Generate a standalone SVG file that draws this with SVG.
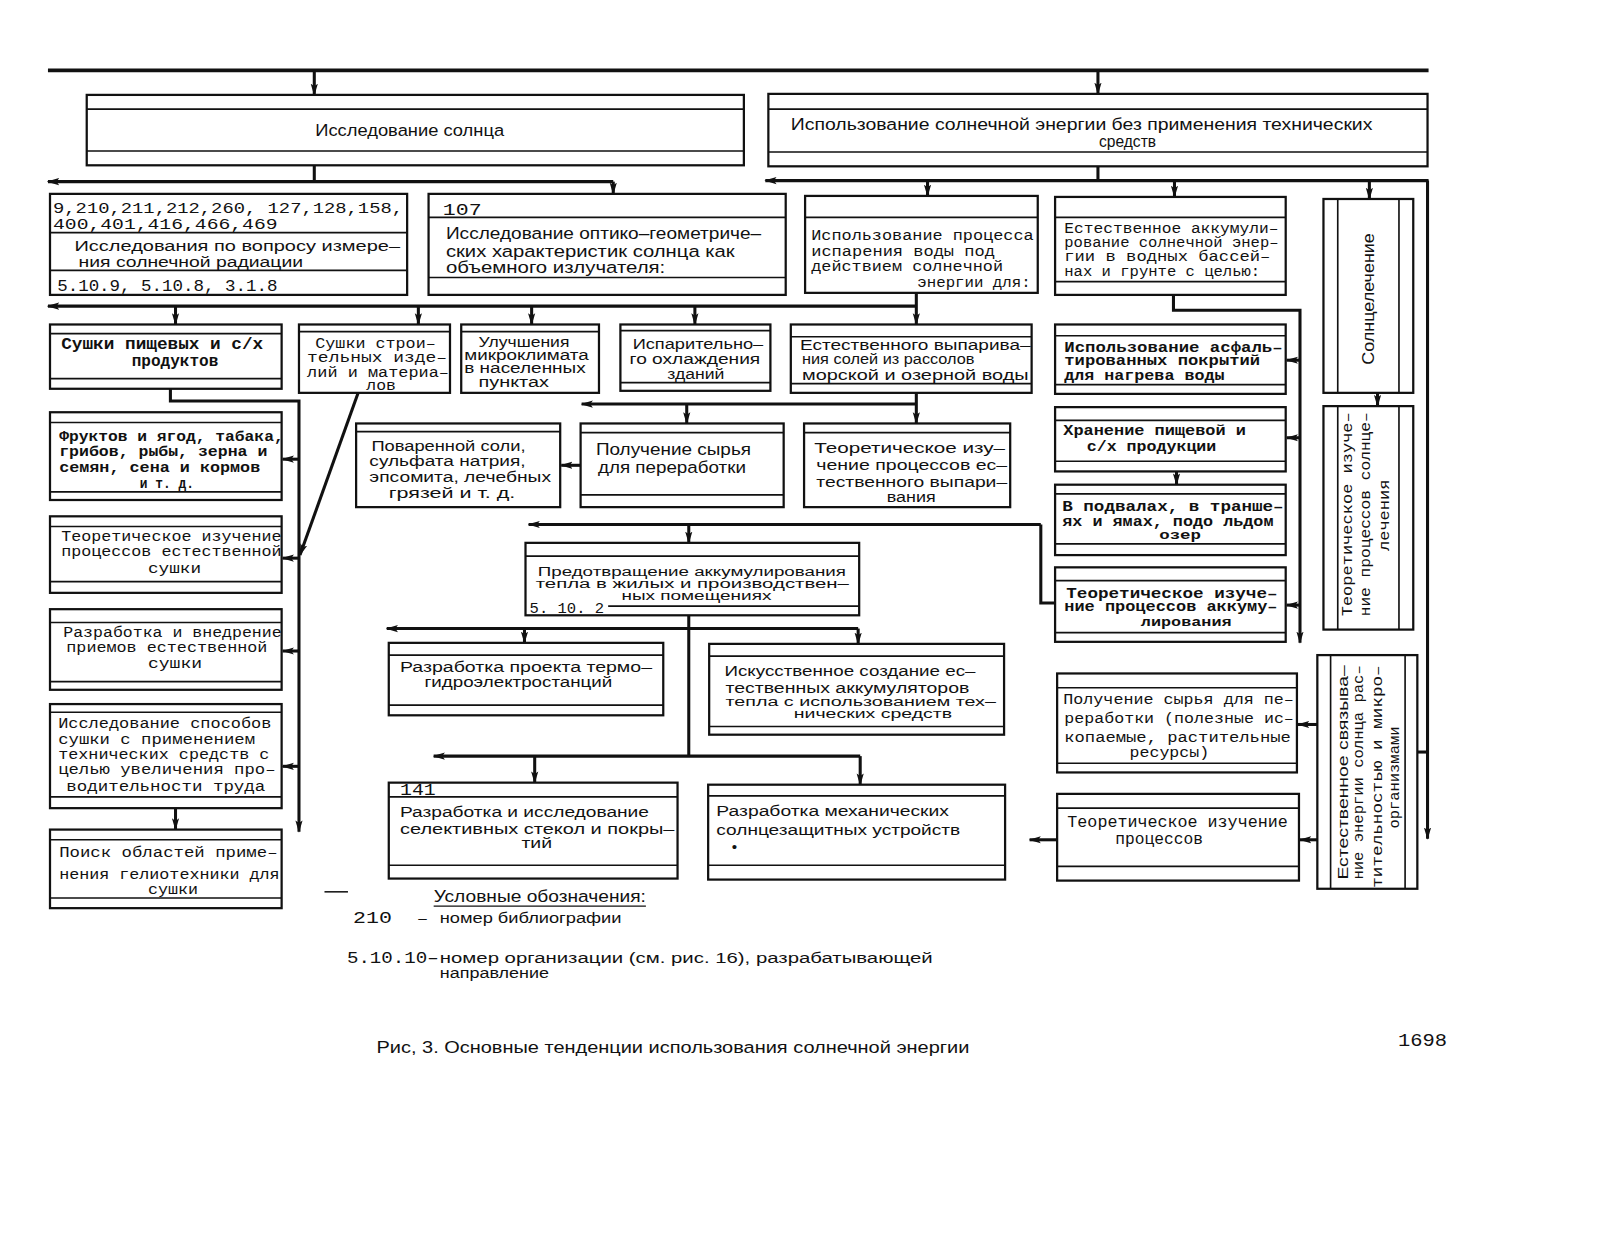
<svg xmlns="http://www.w3.org/2000/svg" width="1600" height="1237" viewBox="0 0 1600 1237">
<defs>
<marker id="ah" viewBox="0 0 12 8" refX="11" refY="4" markerWidth="12" markerHeight="8" markerUnits="userSpaceOnUse" orient="auto"><path d="M0,0.5 L12,4 L0,7.5 L2.5,4 z" fill="#111"/></marker>
<style>
.bx{fill:#fff;stroke:#111;stroke-width:2.2}
.in{fill:none;stroke:#111;stroke-width:1.6}
.cn path{fill:none;stroke:#111;stroke-width:3}
.cn path.a{marker-end:url(#ah)}
text{fill:#111}
.s{font-family:"Liberation Sans",Arial,sans-serif;font-size:16px}
.m{font-family:"Liberation Mono","Courier New",monospace;font-size:15px}
.mb{font-family:"Liberation Mono","Courier New",monospace;font-size:16px;font-weight:bold}
</style>
</defs>
<rect width="1600" height="1237" fill="#fff"/>
<g transform="scale(1.0204)">
<g id="connectors" class="cn">
<path d="M47,69 H1400" style="stroke-width:3.5"/>
<path class="a" d="M308,69 V93"/>
<path class="a" d="M1076,69 V92"/>
<path d="M308,162 V178"/>
<path class="a" d="M601,178 H47"/>
<path class="a" d="M601,178 V190"/>
<path d="M1076,163 V177"/>
<path class="a" d="M1400,177 H750"/>
<path class="a" d="M909,177 V192"/>
<path class="a" d="M1151,177 V193"/>
<path class="a" d="M1342,177 V195"/>
<path class="a" d="M1399,177 V822"/>
<path d="M1399,737 H1389"/>
<path class="a" d="M898,287 V318"/>
<path class="a" d="M898,300 H47"/>
<path class="a" d="M172,300 V318"/>
<path class="a" d="M410,300 V318"/>
<path class="a" d="M521,300 V318"/>
<path class="a" d="M681,300 V318"/>
<path class="a" d="M167,381 V393 H293 V815"/>
<path class="a" d="M293,450 H277"/>
<path class="a" d="M293,547 H277"/>
<path class="a" d="M293,638 H277"/>
<path class="a" d="M293,751 H277"/>
<path class="a" d="M351,385 L294,544"/>
<path class="a" d="M172,792 V813"/>
<path class="a" d="M898,385 V415"/>
<path class="a" d="M898,396 H570"/>
<path class="a" d="M673,396 V415"/>
<path class="a" d="M569,456 H550"/>
<path class="a" d="M1020,514 H518"/>
<path d="M1020,514 V591 H1034"/>
<path class="a" d="M675,514 V532"/>
<path d="M675,603 V741"/>
<path class="a" d="M841,616 H379"/>
<path class="a" d="M514,616 V630"/>
<path class="a" d="M841,616 V631"/>
<path class="a" d="M843,741 H425"/>
<path class="a" d="M524,741 V767"/>
<path class="a" d="M843,741 V769"/>
<path class="a" d="M1150,289 V304 H1274 V630"/>
<path class="a" d="M1274,353 H1261"/>
<path class="a" d="M1274,429 H1261"/>
<path class="a" d="M1274,593 H1261"/>
<path class="a" d="M1153,462 V475"/>
<path class="a" d="M1350,385 V398"/>
<path class="a" d="M1291,710 H1272"/>
<path class="a" d="M1291,823 H1274"/>
<path class="a" d="M1036,823 H1009"/>
</g>

<g id="n-sun">
<rect class="bx" x="85" y="93" width="644" height="69"/>
<path class="in" d="M85,107 H729 M85,148 H729"/>
<text class="s" x="309" y="133" textLength="185" lengthAdjust="spacingAndGlyphs">Исследование солнца</text>
</g>
<g id="n-nontech">
<rect class="bx" x="753" y="92" width="646" height="71"/>
<path class="in" d="M753,107 H1399 M753,149 H1399"/>
<text class="s" x="775" y="127" textLength="570" lengthAdjust="spacingAndGlyphs">Использование солнечной энергии без применения технических</text>
<text class="s" x="1077" y="144" textLength="56" lengthAdjust="spacingAndGlyphs">средств</text>
</g>
<g id="n-radiation">
<rect class="bx" x="49" y="190" width="350" height="99"/>
<path class="in" d="M49,228 H399 M49,265 H399"/>
<text class="m" x="52" y="209" textLength="343" lengthAdjust="spacingAndGlyphs">9,210,211,212,260, 127,128,158,</text>
<text class="m" x="52" y="224" textLength="220" lengthAdjust="spacingAndGlyphs">400,401,416,466,469</text>
<text class="s" style="font-size:15px" x="73" y="246" textLength="319" lengthAdjust="spacingAndGlyphs">Исследования по вопросу измере–</text>
<text class="s" style="font-size:15px" x="77" y="262" textLength="220" lengthAdjust="spacingAndGlyphs">ния солнечной  радиации</text>
<text class="m" style="font-size:16px" x="56" y="285" textLength="216" lengthAdjust="spacingAndGlyphs">5.10.9,  5.10.8, 3.1.8</text>
</g>
<g id="n-optic">
<rect class="bx" x="420" y="190" width="350" height="99"/>
<path class="in" d="M420,213 H770 M420,272 H770"/>
<text class="m" style="font-size:17px" x="434" y="211" textLength="38" lengthAdjust="spacingAndGlyphs">107</text>
<text class="s" x="437" y="234" textLength="309" lengthAdjust="spacingAndGlyphs">Исследование оптико–геометриче–</text>
<text class="s" x="437" y="252" textLength="283" lengthAdjust="spacingAndGlyphs">ских характеристик солнца как</text>
<text class="s" x="437" y="268" textLength="215" lengthAdjust="spacingAndGlyphs">объемного   излучателя:</text>
</g>
<g id="n-evap">
<rect class="bx" x="789" y="192" width="228" height="95"/>
<path class="in" d="M789,213 H1017"/>
<text class="m" x="795" y="235" textLength="218" lengthAdjust="spacingAndGlyphs">Использование процесса</text>
<text class="m" x="795" y="251" textLength="180" lengthAdjust="spacingAndGlyphs">испарения воды под</text>
<text class="m" x="795" y="266" textLength="188" lengthAdjust="spacingAndGlyphs">действием солнечной</text>
<text class="m" x="899" y="281" textLength="111" lengthAdjust="spacingAndGlyphs">энергии для:</text>
</g>
<g id="n-accum">
<rect class="bx" x="1034" y="193" width="226" height="96"/>
<path class="in" d="M1034,213 H1260 M1034,276 H1260"/>
<text class="m" style="font-size:14px" x="1043" y="228" textLength="210" lengthAdjust="spacingAndGlyphs">Естественное аккумули–</text>
<text class="m" style="font-size:14px" x="1043" y="242" textLength="210" lengthAdjust="spacingAndGlyphs">рование солнечной энер–</text>
<text class="m" style="font-size:14px" x="1043" y="256" textLength="202" lengthAdjust="spacingAndGlyphs">гии в водных бассей–</text>
<text class="m" style="font-size:14px" x="1043" y="270" textLength="192" lengthAdjust="spacingAndGlyphs">нах и грунте с целью:</text>
</g>
<g id="n-heliotherapy">
<rect class="bx" x="1297" y="195" width="88" height="190"/>
<path class="in" d="M1311,195 V385 M1371,195 V385"/>
<text class="s" transform="translate(1347,293) rotate(-90)" text-anchor="middle" textLength="129" lengthAdjust="spacingAndGlyphs">Солнцелечение</text>
</g>
<g id="n-helio-theory">
<rect class="bx" x="1297" y="398" width="88" height="219"/>
<path class="in" d="M1311,398 V617 M1371,398 V617"/>
<text class="m" transform="translate(1325,504) rotate(-90)" text-anchor="middle" textLength="200" lengthAdjust="spacingAndGlyphs">Теоретическое изуче–</text>
<text class="m" transform="translate(1343,504) rotate(-90)" text-anchor="middle" textLength="200" lengthAdjust="spacingAndGlyphs">ние процессов солнце–</text>
<text class="m" transform="translate(1361,505) rotate(-90)" text-anchor="middle" textLength="70" lengthAdjust="spacingAndGlyphs">лечения</text>
</g>
<g id="n-bio">
<rect class="bx" x="1291" y="642" width="98" height="229"/>
<path class="in" d="M1304,642 V871 M1377,642 V871"/>
<text class="s" style="font-size:14px" transform="translate(1321,757) rotate(-90)" text-anchor="middle" textLength="210" lengthAdjust="spacingAndGlyphs">Естественное связыва–</text>
<text class="m" style="font-size:14px" transform="translate(1336,757) rotate(-90)" text-anchor="middle" textLength="210" lengthAdjust="spacingAndGlyphs">ние энергии солнца рас–</text>
<text class="m" style="font-size:14px" transform="translate(1354,761) rotate(-90)" text-anchor="middle" textLength="218" lengthAdjust="spacingAndGlyphs">тительностью и микро–</text>
<text class="m" style="font-size:14px" transform="translate(1371,762) rotate(-90)" text-anchor="middle" textLength="100" lengthAdjust="spacingAndGlyphs">организмами</text>
</g>

<g id="n-dry-food">
<rect class="bx" x="49" y="318" width="227" height="63"/>
<path class="in" d="M49,327 H276 M49,371 H276"/>
<text class="mb" x="60" y="342" textLength="198" lengthAdjust="spacingAndGlyphs">Сушки пищевых и с/х</text>
<text class="mb" x="129" y="359" textLength="85" lengthAdjust="spacingAndGlyphs">продуктов</text>
</g>
<g id="n-dry-build">
<rect class="bx" x="293" y="318" width="148" height="67"/>
<path class="in" d="M293,325 H441"/>
<text class="m" style="font-size:14px" x="309" y="341" textLength="118" lengthAdjust="spacingAndGlyphs">Сушки строи–</text>
<text class="m" style="font-size:14px" x="301" y="355" textLength="137" lengthAdjust="spacingAndGlyphs">тельных изде–</text>
<text class="m" style="font-size:14px" x="301" y="369" textLength="139" lengthAdjust="spacingAndGlyphs">лий и материа–</text>
<text class="m" style="font-size:14px" x="359" y="382" textLength="29" lengthAdjust="spacingAndGlyphs">лов</text>
</g>
<g id="n-microclimate">
<rect class="bx" x="452" y="318" width="135" height="67"/>
<path class="in" d="M452,325 H587"/>
<text class="s" style="font-size:14px" x="469" y="340" textLength="89" lengthAdjust="spacingAndGlyphs">Улучшения</text>
<text class="s" style="font-size:14px" x="455" y="353" textLength="122" lengthAdjust="spacingAndGlyphs">микроклимата</text>
<text class="s" style="font-size:14px" x="455" y="366" textLength="119" lengthAdjust="spacingAndGlyphs">в населенных</text>
<text class="s" style="font-size:14px" x="469" y="379" textLength="69" lengthAdjust="spacingAndGlyphs">пунктах</text>
</g>
<g id="n-cooling">
<rect class="bx" x="608" y="318" width="147" height="65"/>
<path class="in" d="M608,324 H755 M608,375 H755"/>
<text class="s" style="font-size:15px" x="620" y="342" textLength="128" lengthAdjust="spacingAndGlyphs">Испарительно–</text>
<text class="s" style="font-size:15px" x="617" y="357" textLength="128" lengthAdjust="spacingAndGlyphs">го охлаждения</text>
<text class="s" style="font-size:14px" x="654" y="371" textLength="56" lengthAdjust="spacingAndGlyphs">зданий</text>
</g>
<g id="n-salt">
<rect class="bx" x="775" y="318" width="236" height="67"/>
<path class="in" d="M775,330 H1011 M775,376 H1011"/>
<text class="s" style="font-size:15px" x="784" y="343" textLength="226" lengthAdjust="spacingAndGlyphs">Естественного выпарива–</text>
<text class="s" style="font-size:15px" x="786" y="357" textLength="169" lengthAdjust="spacingAndGlyphs">ния солей из рассолов</text>
<text class="s" style="font-size:15px" x="786" y="372" textLength="222" lengthAdjust="spacingAndGlyphs">морской и озерной воды</text>
</g>

<g id="n-fruits">
<rect class="bx" x="49" y="404" width="227" height="86"/>
<path class="in" d="M49,414 H276 M49,482 H276"/>
<text class="mb" style="font-size:15px" x="58" y="432" textLength="220" lengthAdjust="spacingAndGlyphs">Фруктов и ягод, табака,</text>
<text class="mb" style="font-size:15px" x="58" y="447" textLength="204" lengthAdjust="spacingAndGlyphs">грибов, рыбы, зерна и</text>
<text class="mb" style="font-size:15px" x="58" y="463" textLength="197" lengthAdjust="spacingAndGlyphs">семян, сена и кормов</text>
<text class="mb" style="font-size:15px" x="137" y="478" textLength="53" lengthAdjust="spacingAndGlyphs">и т. д.</text>
</g>
<g id="n-dry-theory">
<rect class="bx" x="49" y="506" width="227" height="75"/>
<path class="in" d="M49,516 H276 M49,570 H276"/>
<text class="m" style="font-size:14px" x="60" y="530" textLength="216" lengthAdjust="spacingAndGlyphs">Теоретическое изучение</text>
<text class="m" style="font-size:14px" x="60" y="545" textLength="216" lengthAdjust="spacingAndGlyphs">процессов естественной</text>
<text class="m" x="145" y="562" textLength="52" lengthAdjust="spacingAndGlyphs">сушки</text>
</g>
<g id="n-dry-methods">
<rect class="bx" x="49" y="597" width="227" height="79"/>
<path class="in" d="M49,610 H276 M49,668 H276"/>
<text class="m" x="62" y="624" textLength="214" lengthAdjust="spacingAndGlyphs">Разработка и внедрение</text>
<text class="m" x="65" y="639" textLength="197" lengthAdjust="spacingAndGlyphs">приемов естественной</text>
<text class="m" style="font-size:14px" x="145" y="655" textLength="53" lengthAdjust="spacingAndGlyphs">сушки</text>
</g>
<g id="n-dry-tech">
<rect class="bx" x="49" y="690" width="227" height="102"/>
<path class="in" d="M49,698 H276 M49,781 H276"/>
<text class="m" x="57" y="713" textLength="209" lengthAdjust="spacingAndGlyphs">Исследование способов</text>
<text class="m" x="57" y="729" textLength="193" lengthAdjust="spacingAndGlyphs">сушки с применением</text>
<text class="m" x="57" y="744" textLength="207" lengthAdjust="spacingAndGlyphs">технических средств с</text>
<text class="m" x="57" y="759" textLength="213" lengthAdjust="spacingAndGlyphs">целью увеличения про–</text>
<text class="m" x="65" y="775" textLength="195" lengthAdjust="spacingAndGlyphs">водительности труда</text>
</g>
<g id="n-dry-search">
<rect class="bx" x="49" y="813" width="227" height="77"/>
<path class="in" d="M49,823 H276 M49,880 H276"/>
<text class="m" x="58" y="840" textLength="214" lengthAdjust="spacingAndGlyphs">Поиск областей приме–</text>
<text class="m" x="58" y="861" textLength="216" lengthAdjust="spacingAndGlyphs">нения гелиотехники для</text>
<text class="m" x="145" y="876" textLength="49" lengthAdjust="spacingAndGlyphs">сушки</text>
</g>

<g id="n-salts-list">
<rect class="bx" x="349" y="415" width="200" height="82"/>
<path class="in" d="M349,423 H549"/>
<text class="s" style="font-size:15px" x="364" y="442" textLength="151" lengthAdjust="spacingAndGlyphs">Поваренной соли,</text>
<text class="s" style="font-size:15px" x="362" y="457" textLength="153" lengthAdjust="spacingAndGlyphs">сульфата натрия,</text>
<text class="s" style="font-size:15px" x="362" y="472" textLength="178" lengthAdjust="spacingAndGlyphs">эпсомита, лечебных</text>
<text class="s" style="font-size:15px" x="381" y="488" textLength="124" lengthAdjust="spacingAndGlyphs">грязей и т. д.</text>
</g>
<g id="n-raw">
<rect class="bx" x="569" y="415" width="199" height="82"/>
<path class="in" d="M569,424 H768 M569,485 H768"/>
<text class="s" x="584" y="446" textLength="152" lengthAdjust="spacingAndGlyphs">Получение сырья</text>
<text class="s" x="586" y="464" textLength="145" lengthAdjust="spacingAndGlyphs">для переработки</text>
</g>
<g id="n-evap-theory">
<rect class="bx" x="788" y="415" width="202" height="82"/>
<path class="in" d="M788,424 H990"/>
<text class="s" style="font-size:15px" x="798" y="444" textLength="187" lengthAdjust="spacingAndGlyphs">Теоретическое изу–</text>
<text class="s" style="font-size:15px" x="800" y="461" textLength="187" lengthAdjust="spacingAndGlyphs">чение процессов ес–</text>
<text class="s" style="font-size:15px" x="800" y="477" textLength="187" lengthAdjust="spacingAndGlyphs">тественного выпари–</text>
<text class="s" style="font-size:14px" x="869" y="492" textLength="48" lengthAdjust="spacingAndGlyphs">вания</text>
</g>

<g id="n-asphalt">
<rect class="bx" x="1034" y="318" width="226" height="68"/>
<path class="in" d="M1034,329 H1260 M1034,377 H1260"/>
<text class="mb" style="font-size:14px" x="1043" y="345" textLength="214" lengthAdjust="spacingAndGlyphs">Использование асфаль–</text>
<text class="mb" style="font-size:14px" x="1043" y="358" textLength="192" lengthAdjust="spacingAndGlyphs">тированных покрытий</text>
<text class="mb" style="font-size:14px" x="1043" y="372" textLength="157" lengthAdjust="spacingAndGlyphs">для нагрева воды</text>
</g>
<g id="n-storage">
<rect class="bx" x="1034" y="399" width="226" height="63"/>
<path class="in" d="M1034,412 H1260 M1034,452 H1260"/>
<text class="mb" style="font-size:15px" x="1042" y="426" textLength="179" lengthAdjust="spacingAndGlyphs">Хранение пищевой и</text>
<text class="mb" style="font-size:15px" x="1065" y="442" textLength="127" lengthAdjust="spacingAndGlyphs">с/х продукции</text>
</g>
<g id="n-cellars">
<rect class="bx" x="1034" y="475" width="226" height="69"/>
<path class="in" d="M1034,484 H1260 M1034,533 H1260"/>
<text class="mb" style="font-size:14px" x="1041" y="501" textLength="217" lengthAdjust="spacingAndGlyphs">В подвалах, в  транше–</text>
<text class="mb" style="font-size:14px" x="1041" y="515" textLength="207" lengthAdjust="spacingAndGlyphs">ях и ямах, подо льдом</text>
<text class="mb" style="font-size:13px" x="1136" y="528" textLength="41" lengthAdjust="spacingAndGlyphs">озер</text>
</g>
<g id="n-accum-theory">
<rect class="bx" x="1034" y="556" width="226" height="73"/>
<path class="in" d="M1034,569 H1260 M1034,620 H1260"/>
<text class="mb" style="font-size:14px" x="1045" y="586" textLength="207" lengthAdjust="spacingAndGlyphs">Теоретическое изуче–</text>
<text class="mb" style="font-size:14px" x="1043" y="599" textLength="209" lengthAdjust="spacingAndGlyphs">ние процессов аккуму–</text>
<text class="mb" style="font-size:13px" x="1118" y="613" textLength="89" lengthAdjust="spacingAndGlyphs">лирования</text>
</g>
<g id="n-resources">
<rect class="bx" x="1036" y="660" width="235" height="97"/>
<path class="in" d="M1036,674 H1271 M1036,748 H1271"/>
<text class="m" x="1042" y="690" textLength="226" lengthAdjust="spacingAndGlyphs">Получение сырья для пе–</text>
<text class="m" x="1043" y="709" textLength="225" lengthAdjust="spacingAndGlyphs">реработки (полезные ис–</text>
<text class="m" x="1043" y="727" textLength="222" lengthAdjust="spacingAndGlyphs">копаемые, растительные</text>
<text class="m" style="font-size:14px" x="1107" y="742" textLength="78" lengthAdjust="spacingAndGlyphs">ресурсы)</text>
</g>
<g id="n-bio-theory">
<rect class="bx" x="1036" y="778" width="237" height="85"/>
<path class="in" d="M1036,792 H1273 M1036,849 H1273"/>
<text class="m" style="font-size:16px" x="1046" y="810" textLength="216" lengthAdjust="spacingAndGlyphs">Теоретическое изучение</text>
<text class="m" style="font-size:16px" x="1093" y="827" textLength="86" lengthAdjust="spacingAndGlyphs">процессов</text>
</g>

<g id="n-prevent">
<rect class="bx" x="515" y="532" width="327" height="71"/>
<path class="in" d="M515,545 H842 M596,594 H842"/>
<text class="s" style="font-size:13px" x="527" y="564" textLength="302" lengthAdjust="spacingAndGlyphs">Предотвращение аккумулирования</text>
<text class="s" style="font-size:13px" x="525" y="576" textLength="307" lengthAdjust="spacingAndGlyphs">тепла в жилых  и производствен–</text>
<text class="s" style="font-size:12px" x="609" y="588" textLength="147" lengthAdjust="spacingAndGlyphs">ных помещениях</text>
<text class="m" style="font-size:15px" x="519" y="601" textLength="73" lengthAdjust="spacingAndGlyphs">5. 10. 2</text>
</g>
<g id="n-thermo">
<rect class="bx" x="381" y="630" width="269" height="71"/>
<path class="in" d="M381,642 H650 M381,691 H650"/>
<text class="s" style="font-size:15px" x="392" y="659" textLength="247" lengthAdjust="spacingAndGlyphs">Разработка проекта термо–</text>
<text class="s" style="font-size:15px" x="416" y="673" textLength="184" lengthAdjust="spacingAndGlyphs">гидроэлектростанций</text>
</g>
<g id="n-artificial">
<rect class="bx" x="695" y="631" width="289" height="89"/>
<path class="in" d="M695,643 H984 M695,712 H984"/>
<text class="s" style="font-size:15px" x="710" y="662" textLength="246" lengthAdjust="spacingAndGlyphs">Искусственное создание ес–</text>
<text class="s" style="font-size:14px" x="711" y="679" textLength="239" lengthAdjust="spacingAndGlyphs">тественных аккумуляторов</text>
<text class="s" style="font-size:13px" x="711" y="692" textLength="265" lengthAdjust="spacingAndGlyphs">тепла с использованием тех–</text>
<text class="s" style="font-size:13px" x="778" y="704" textLength="155" lengthAdjust="spacingAndGlyphs">нических средств</text>
</g>
<g id="n-glass">
<rect class="bx" x="381" y="767" width="283" height="94"/>
<path class="in" d="M381,781 H664 M381,848 H664"/>
<text class="m" style="font-size:16px" x="392" y="779" textLength="35" lengthAdjust="spacingAndGlyphs">141</text>
<text class="s" style="font-size:15px" x="392" y="801" textLength="244" lengthAdjust="spacingAndGlyphs">Разработка и исследование</text>
<text class="s" style="font-size:15px" x="392" y="817" textLength="269" lengthAdjust="spacingAndGlyphs">селективных стекол и покры–</text>
<text class="s" style="font-size:14px" x="511" y="831" textLength="30" lengthAdjust="spacingAndGlyphs">тий</text>
</g>
<g id="n-shading">
<rect class="bx" x="694" y="769" width="291" height="93"/>
<path class="in" d="M694,780 H985 M694,848 H985"/>
<text class="s" style="font-size:15px" x="702" y="800" textLength="228" lengthAdjust="spacingAndGlyphs">Разработка механических</text>
<text class="s" style="font-size:15px" x="702" y="818" textLength="239" lengthAdjust="spacingAndGlyphs">солнцезащитных устройств</text>
<text class="s" style="font-size:15px" x="717" y="835">•</text>
</g>

<g id="legend">
<path d="M318,874 H341" stroke="#111" stroke-width="1.5"/>
<text class="s" x="425" y="884" textLength="208" lengthAdjust="spacingAndGlyphs">Условные обозначения:</text>
<path d="M425,888 H633" stroke="#111" stroke-width="1.3"/>
<text class="m" style="font-size:17px" x="346" y="905" textLength="38" lengthAdjust="spacingAndGlyphs">210</text>
<text class="s" style="font-size:15px" x="410" y="905">–</text>
<text class="s" style="font-size:15px" x="431" y="905" textLength="178" lengthAdjust="spacingAndGlyphs">номер библиографии</text>
<text class="m" style="font-size:16px" x="340" y="944" textLength="90" lengthAdjust="spacingAndGlyphs">5.10.10–</text>
<text class="s" style="font-size:15px" x="431" y="944" textLength="483" lengthAdjust="spacingAndGlyphs">номер организации (см. рис.  16), разрабатывающей</text>
<text class="s" style="font-size:14px" x="431" y="958" textLength="107" lengthAdjust="spacingAndGlyphs">направление</text>
</g>
<g id="caption">
<text class="s" x="369" y="1032" textLength="581" lengthAdjust="spacingAndGlyphs">Рис, 3. Основные тенденции использования солнечной энергии</text>
<text class="m" style="font-size:18px" x="1370" y="1025" textLength="48" lengthAdjust="spacingAndGlyphs">1698</text>
</g>
</g>
</svg>
